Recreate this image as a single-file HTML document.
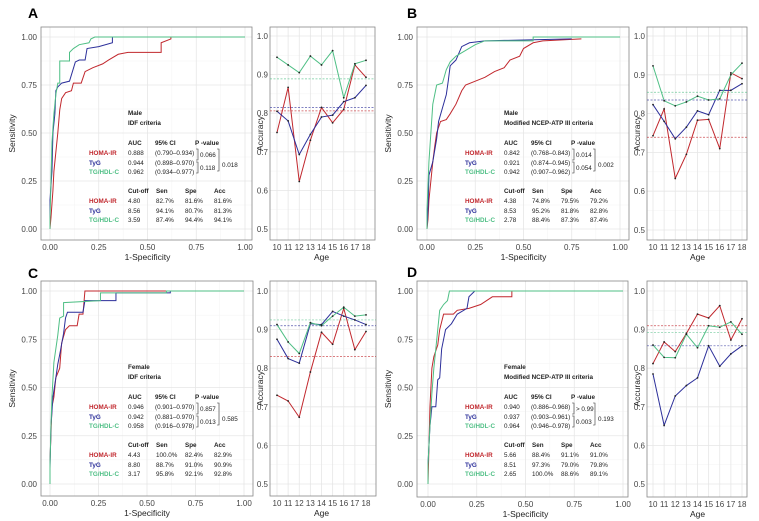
<!DOCTYPE html>
<html><head><meta charset="utf-8"><style>
html,body{margin:0;padding:0;background:#fff;}
svg{display:block;font-family:"Liberation Sans",Arial,sans-serif;}
</style></head><body>
<svg id="fig" width="759" height="521" viewBox="0 0 759 521" xmlns="http://www.w3.org/2000/svg"></svg>
<script>
const ticksROC=[0,0.25,0.5,0.75,1];
const tickLabelsROC=["0.00","0.25","0.50","0.75","1.00"];
const ticksAcc=[0.5,0.6,0.7,0.8,0.9,1.0];
const tickLabelsAcc=["0.5","0.6","0.7","0.8","0.9","1.0"];
const ages=[10,11,12,13,14,15,16,17,18];
const seriesNames=["HOMA-IR","TyG","TG/HDL-C"];
const colors=["#c1272d","#2c2f9a","#4fbf85"];

// Panel A
const rocA_red=[[0,0],[0.005,.06],[0.015,.2],[0.02,.3],[0.03,.4],[0.04,.5],[0.05,.62],[0.06,.68],[0.08,.71],[0.11,.72],[0.12,.76],[0.16,.76],[0.18,.82],[0.22,.84],[0.27,.86],[0.3,.88],[0.35,.91],[0.4,.92],[0.57,.92],[0.57,.97],[0.62,.99],[0.62,1]];
const rocA_blue=[[0,0],[0,.15],[0.01,.3],[0.015,.5],[0.025,.6],[0.03,.72],[0.04,.74],[0.06,.76],[0.1,.77],[0.13,.87],[0.15,.88],[0.18,.88],[0.19,.94],[0.25,.95],[0.32,.97],[0.32,1]];
const rocA_green=[[0,0],[0,.05],[0.005,.25],[0.01,.45],[0.02,.6],[0.03,.7],[0.04,.76],[0.05,.76],[0.05,.875],[0.1,.875],[0.1,.92],[0.12,.94],[0.15,.96],[0.2,.97],[0.21,.99],[0.23,1],[1,1]];
const accA_red=[.75,.867,.623,.73,.815,.775,.81,.925,.893];
const accA_blue=[.805,.78,.693,.745,.79,.795,.83,.84,.872];
const accA_green=[.945,.925,.905,.948,.925,.962,.84,.928,.937];
const refA=[.806,.815,.889];
// Panel B
const rocB_red=[[0,0],[0.005,.05],[0.01,.15],[0.02,.25],[0.03,.35],[0.04,.43],[0.05,.5],[0.07,.56],[0.1,.57],[0.12,.6],[0.15,.65],[0.18,.72],[0.2,.75],[0.25,.77],[0.3,.79],[0.35,.82],[0.4,.84],[0.43,.88],[0.48,.9],[0.5,.94],[0.55,.97],[0.6,.98],[0.8,.99]];
const rocB_blue=[[0,0],[0.005,.1],[0.01,.28],[0.03,.35],[0.05,.47],[0.06,.56],[0.08,.63],[0.1,.7],[0.11,.77],[0.12,.85],[0.15,.88],[0.18,.95],[0.22,.97],[0.3,.98],[0.75,.99]];
const rocB_green=[[0,0],[0,.1],[0.01,.35],[0.02,.5],[0.03,.65],[0.04,.7],[0.05,.75],[0.08,.76],[0.1,.83],[0.12,.87],[0.15,.9],[0.2,.93],[0.25,.96],[0.3,.98],[0.55,.98],[0.55,1],[1,1]];
const accB_red=[.743,.812,.633,.695,.783,.785,.71,.905,.89];
const accB_blue=[.823,.78,.735,.765,.807,.797,.86,.86,.877];
const accB_green=[.923,.833,.82,.83,.845,.835,.838,.9,.93];
const refB=[.739,.835,.855];
// Panel C
const rocC_red=[[0,0],[0,.12],[0.01,.4],[0.02,.45],[0.03,.55],[0.05,.6],[0.06,.73],[0.08,.8],[0.1,.82],[0.14,.82],[0.15,.88],[0.17,.88],[0.18,1],[0.6,1]];
const rocC_blue=[[0,0],[0,.08],[0.005,.3],[0.015,.45],[0.03,.55],[0.04,.62],[0.05,.67],[0.07,.78],[0.08,.86],[0.09,.89],[0.17,.89],[0.18,.95],[0.34,.95],[0.34,.99],[0.62,.99],[0.62,1]];
const rocC_green=[[0,0],[0,.1],[0.005,.3],[0.01,.45],[0.02,.63],[0.03,.7],[0.04,.77],[0.05,.86],[0.07,.87],[0.07,.94],[0.26,.95],[0.26,.99],[0.6,.99],[0.6,1],[1,1]];
const accC_red=[.73,.715,.673,.79,.893,.862,.955,.848,.895];
const accC_blue=[.875,.825,.813,.915,.913,.947,.935,.925,.913];
const accC_green=[.913,.868,.838,.918,.91,.935,.958,.935,.938];
const refC=[.83,.91,.925];
// Panel D
const rocD_red=[[0,0],[0.005,.2],[0.01,.4],[0.02,.6],[0.03,.66],[0.05,.72],[0.06,.8],[0.08,.88],[0.13,.88],[0.15,.9],[0.21,.91],[0.27,.93],[0.33,.97],[0.43,.97],[0.43,1]];
const rocD_blue=[[0,0],[0,.1],[0.01,.3],[0.02,.4],[0.04,.4],[0.05,.54],[0.06,.55],[0.07,.7],[0.09,.8],[0.12,.83],[0.15,.88],[0.2,.91],[0.21,.97],[0.24,1]];
const rocD_green=[[0,0],[0,.1],[0.01,.3],[0.02,.47],[0.03,.6],[0.04,.7],[0.05,.8],[0.06,.9],[0.08,.93],[0.1,.95],[0.11,1],[1,1]];
const accD_red=[.812,.868,.843,.89,.94,.93,.962,.873,.928];
const accD_blue=[.785,.652,.728,.755,.775,.858,.805,.837,.858];
const accD_green=[.86,.828,.827,.888,.853,.91,.906,.92,.888];
const refD=[.91,.858,.893];

const textA={sex:"Male",crit:"IDF criteria",auc:["0.888","0.944","0.962"],ci:["(0.790\u20130.934)","(0.898\u20130.970)","(0.934\u20130.977)"],p:["0.066","0.118","0.018"],cut:[["4.80","82.7%","81.6%","81.6%"],["8.56","94.1%","80.7%","81.3%"],["3.59","87.4%","94.4%","94.1%"]]};
const textB={sex:"Male",crit:"Modified NCEP-ATP III criteria",auc:["0.842","0.921","0.942"],ci:["(0.768\u20130.843)","(0.874\u20130.945)","(0.907\u20130.962)"],p:["0.014","0.054","0.002"],cut:[["4.38","74.8%","79.5%","79.2%"],["8.53","95.2%","81.8%","82.8%"],["2.78","88.4%","87.3%","87.4%"]]};
const textC={sex:"Female",crit:"IDF criteria",auc:["0.946","0.942","0.958"],ci:["(0.901\u20130.970)","(0.881\u20130.970)","(0.916\u20130.978)"],p:["0.857","0.013","0.585"],cut:[["4.43","100.0%","82.4%","82.9%"],["8.80","88.7%","91.0%","90.9%"],["3.17","95.8%","92.1%","92.8%"]]};
const textD={sex:"Female",crit:"Modified NCEP-ATP III criteria",auc:["0.940","0.937","0.964"],ci:["(0.886\u20130.968)","(0.903\u20130.961)","(0.946\u20130.978)"],p:["> 0.99","0.003","0.193"],cut:[["5.66","88.4%","91.1%","91.0%"],["8.51","97.3%","79.0%","79.8%"],["2.65","100.0%","88.6%","89.1%"]]};

const panels=[
 {id:"a",letter:"A",lx:28,ly:18,roc:{l:41,t:27,r:252,b:240,x0:50,x1:245,y0:229,y1:37},acc:{l:270,t:27,r:375,b:240,a0:277,a1:366,y0:229,y1:36},rocs:[rocA_red,rocA_blue,rocA_green],accs:[accA_red,accA_blue,accA_green],ref:refA,txt:textA},
 {id:"b",letter:"B",lx:407,ly:18,roc:{l:417,t:27,r:629,b:240,x0:427,x1:620,y0:229,y1:37},acc:{l:647,t:27,r:747,b:240,a0:653,a1:742,y0:230,y1:36},rocs:[rocB_red,rocB_blue,rocB_green],accs:[accB_red,accB_blue,accB_green],ref:refB,txt:textB},
 {id:"c",letter:"C",lx:28,ly:278,roc:{l:41,t:281,r:253,b:496,x0:50,x1:244,y0:484,y1:291},acc:{l:270,t:281,r:376,b:496,a0:277,a1:366,y0:484,y1:291},rocs:[rocC_red,rocC_blue,rocC_green],accs:[accC_red,accC_blue,accC_green],ref:refC,txt:textC},
 {id:"d",letter:"D",lx:407,ly:277,roc:{l:417,t:281,r:628,b:497,x0:428,x1:623,y0:484,y1:291},acc:{l:647,t:281,r:747,b:497,a0:653,a1:742,y0:484,y1:291},rocs:[rocD_red,rocD_blue,rocD_green],accs:[accD_red,accD_blue,accD_green],ref:refD,txt:textD}
];

const svg=document.getElementById('fig');
const NS="http://www.w3.org/2000/svg";
function mk(tag,attrs,parent,txt){const e=document.createElementNS(NS,tag);for(const k in attrs)e.setAttribute(k,attrs[k]);if(txt!==undefined)e.textContent=txt;(parent||svg).appendChild(e);return e;}

panels.forEach(P=>{
 const g=mk('g',{});
 
 
 const L=mk('text',{x:P.lx,y:P.ly,'font-size':14,'font-weight':'bold',fill:'#000'},g,P.letter);
 
 
 // ROC
 const R=P.roc;
 const sx=v=>R.x0+v*(R.x1-R.x0), sy=v=>R.y0+v*(R.y1-R.y0);
 for(let i=0;i<4;i++){const m=(ticksROC[i]+ticksROC[i+1])/2;
  mk('line',{x1:sx(m),x2:sx(m),y1:R.t,y2:R.b,stroke:'#f3f3f3','stroke-width':0.5},g);
  mk('line',{x1:R.l,x2:R.r,y1:sy(m),y2:sy(m),stroke:'#f3f3f3','stroke-width':0.5},g);}
 ticksROC.forEach((t,i)=>{
  mk('line',{x1:sx(t),x2:sx(t),y1:R.t,y2:R.b,stroke:'#e6e6e6','stroke-width':0.8},g);
  mk('line',{x1:R.l,x2:R.r,y1:sy(t),y2:sy(t),stroke:'#e6e6e6','stroke-width':0.8},g);
  const tx=mk('text',{x:sx(t),y:R.b+10,'font-size':8,fill:'#444','text-anchor':'middle'},g,tickLabelsROC[i]);
  
  
  const ty=mk('text',{x:R.l-4,y:sy(t)+3,'font-size':8,fill:'#444','text-anchor':'end'},g,tickLabelsROC[i]);
  
  
 });
 mk('rect',{x:R.l,y:R.t,width:R.r-R.l,height:R.b-R.t,fill:'none',stroke:'#888','stroke-width':0.8},g);
 const xt=mk('text',{x:(R.x0+R.x1)/2,y:R.b+20,'font-size':8.5,fill:'#222','text-anchor':'middle'},g,'1-Specificity');
 
 
 const yt=mk('text',{x:0,y:0,'font-size':8.5,fill:'#222','text-anchor':'middle',transform:`translate(${R.l-26},${(R.t+R.b)/2}) rotate(-90)`},g,'Sensitivity');
 
 
 P.rocs.forEach((pts,k)=>{
  const pl=mk('polyline',{points:pts.map(p=>sx(p[0])+','+sy(p[1])).join(' '),fill:'none',stroke:colors[k],'stroke-width':1},g);
  
  
 });
 // text table
 const T=P.txt, l=R.l, t=R.t;
 const tt=(x,y,s,c,b)=>mk('text',{x:x,y:y,'font-size':6.3,fill:c||'#222','font-weight':b?'bold':'normal'},g,s);
 tt(l+87,t+88,T.sex,'#222',true); tt(l+87,t+98,T.crit,'#222',true);
 tt(l+87,t+118,'AUC','#222',true); tt(l+114,t+118,'95% CI','#222',true); tt(l+154,t+118,'P -value','#222',true);
 const rows=[t+128,t+138,t+147];
 seriesNames.forEach((n,k)=>{const lab=tt(l+48,rows[k],n,colors[k],true);
  
  
  tt(l+87,rows[k],T.auc[k]); tt(l+114,rows[k],T.ci[k]);});
 mk('path',{d:`M${l+155},${rows[0]-6}h2v11h-2`,fill:'none',stroke:'#333','stroke-width':0.6},g);
 mk('path',{d:`M${l+155},${rows[1]-3}h2v11h-2`,fill:'none',stroke:'#333','stroke-width':0.6},g);
 tt(l+159,rows[0]+2,T.p[0]); tt(l+159,rows[1]+5,T.p[1]);
 mk('path',{d:`M${l+176},${rows[0]-6}h2v22h-2`,fill:'none',stroke:'#333','stroke-width':0.6},g);
 tt(l+181,rows[1]+2,T.p[2]);
 tt(l+87,t+166,'Cut-off','#222',true); tt(l+115,t+166,'Sen','#222',true); tt(l+144,t+166,'Spe','#222',true); tt(l+173,t+166,'Acc','#222',true);
 const rows2=[t+176,t+186,t+195];
 seriesNames.forEach((n,k)=>{tt(l+48,rows2[k],n,colors[k],true);
  const xs=[87,115,144,173]; T.cut[k].forEach((v,j)=>tt(l+xs[j],rows2[k],v));});
 // Accuracy plot
 const A=P.acc;
 const ax=a=>A.a0+(a-10)/8*(A.a1-A.a0), ay=v=>A.y0+(v-0.5)/0.5*(A.y1-A.y0);
 for(let i=0;i<5;i++){const m=(ticksAcc[i]+ticksAcc[i+1])/2;
  mk('line',{x1:A.l,x2:A.r,y1:ay(m),y2:ay(m),stroke:'#f3f3f3','stroke-width':0.5},g);}
 ticksAcc.forEach((t2,i)=>{
  mk('line',{x1:A.l,x2:A.r,y1:ay(t2),y2:ay(t2),stroke:'#e6e6e6','stroke-width':0.8},g);
  const ty2=mk('text',{x:A.l-2,y:ay(t2)+3,'font-size':8,fill:'#444','text-anchor':'end'},g,tickLabelsAcc[i]);
  
  
 });
 ages.forEach(a=>{
  mk('line',{x1:ax(a),x2:ax(a),y1:A.t,y2:A.b,stroke:'#e6e6e6','stroke-width':0.8},g);
  const tx2=mk('text',{x:ax(a),y:A.b+10,'font-size':8,fill:'#444','text-anchor':'middle'},g,String(a));
  
  
 });
 mk('rect',{x:A.l,y:A.t,width:A.r-A.l,height:A.b-A.t,fill:'none',stroke:'#888','stroke-width':0.8},g);
 const at=mk('text',{x:(A.a0+A.a1)/2,y:A.b+20,'font-size':8.5,fill:'#222','text-anchor':'middle'},g,'Age');
 
 
 const ayt=mk('text',{x:0,y:0,'font-size':8.5,fill:'#222','text-anchor':'middle',transform:`translate(${A.l-7},${(A.t+A.b)/2}) rotate(-90)`},g,'Accuracy');
 
 
 P.ref.forEach((v,k)=>{
  const rl=mk('line',{x1:A.l,x2:A.r,y1:ay(v),y2:ay(v),stroke:colors[k],'stroke-width':0.7,'stroke-dasharray':'2,1.5',opacity:0.8},g);
  
  
 });
 P.accs.forEach((vals,k)=>{
  const pl=mk('polyline',{points:vals.map((v,i)=>ax(ages[i])+','+ay(v)).join(' '),fill:'none',stroke:colors[k],'stroke-width':1},g);
  
  
  vals.forEach((v,i)=>{const c=mk('circle',{cx:ax(ages[i]),cy:ay(v),r:0.9,fill:'#222'},g);
   
   });
 });
});
</script>
</body></html>
